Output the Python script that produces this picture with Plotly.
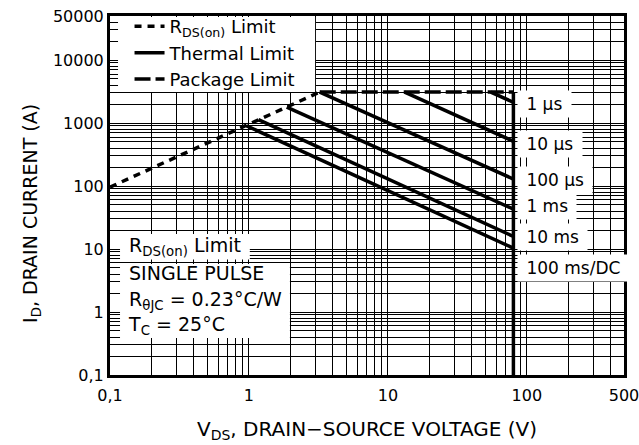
import numpy as np
import plotly.graph_objects as go

# ---------------- data ----------------
rds_v = [0.1, 3.23]
rds_i = [96, 3100]

pkg_v = [3.23, 80]
pkg_i = [3100, 3100]

pulse_names = ["1 µs", "10 µs", "100 µs", "1 ms", "10 ms", "100 ms/DC"]
pulse_v_start = [55, 13.2, 3.23, 1.87, 1.17, 0.963]
pulse_i_start = [3100, 3100, 3100, 1790, 1130, 900]
pulse_v_end = [80, 80, 80, 80, 80, 80]
pulse_i_end = [2133, 512, 129, 43, 15.8, 10.3]

vdss_v = [80, 80]
vdss_i = [3100, 0.1]

x_tickvals = [0.1, 1, 10, 100, 500]
x_ticktext = ["0,1", "1", "10", "100", "500"]
y_tickvals = [0.1, 1, 10, 100, 1000, 10000, 50000]
y_ticktext = ["0,1", "1", "10", "100", "1000", "10000", "50000"]

# label positions (fraction of plot height)
pulse_label_y = [0.754, 0.644, 0.543, 0.472, 0.385, 0.298]

FONT = "DejaVu Sans"
LW = 3.5

XR = [np.log10(0.1), np.log10(500) + 1e-6]
YR = [np.log10(0.1) - 1e-6, np.log10(50000) + 1e-6]


def fx(f):
    return 10 ** (XR[0] + f * (XR[1] - XR[0]))


def fy(f):
    return 10 ** (YR[0] + f * (YR[1] - YR[0]))


fig = go.Figure()

# white boxes behind the legend and the condition text (drawn first: above grid, below curves)
boxes = [(0.0156, 0.399, 0.788, 0.997),
         (0.0195, 0.272, 0.322, 0.393),
         (0.0195, 0.350, 0.103, 0.309)]
for b in boxes:
    fig.add_trace(go.Scatter(x=[fx(b[0]), fx(b[1]), fx(b[1]), fx(b[0]), fx(b[0])],
                             y=[fy(b[2]), fy(b[2]), fy(b[3]), fy(b[3]), fy(b[2])],
                             mode="lines", fill="toself", fillcolor="white",
                             line=dict(width=0, color="white"),
                             hoverinfo="skip", showlegend=False))

fig.add_trace(go.Scatter(x=rds_v, y=rds_i, mode="lines",
                         line=dict(color="black", width=LW, dash="7px,6px"),
                         name="R<sub>DS(on)</sub> Limit", legendrank=1))

for k in range(len(pulse_names)):
    fig.add_trace(go.Scatter(x=[pulse_v_start[k], pulse_v_end[k]],
                             y=[pulse_i_start[k], pulse_i_end[k]],
                             mode="lines", line=dict(color="black", width=LW),
                             name="Thermal Limit", legendgroup="thermal",
                             showlegend=(k == 0), legendrank=2))

fig.add_trace(go.Scatter(x=vdss_v, y=vdss_i, mode="lines",
                         line=dict(color="black", width=LW),
                         name="Thermal Limit", legendgroup="thermal",
                         showlegend=False, legendrank=2))

fig.add_trace(go.Scatter(x=pkg_v, y=pkg_i, mode="lines",
                         line=dict(color="black", width=LW, dash="16px,5px"),
                         name="Package Limit", legendrank=3))

# minor grid values 1..9 x 10^n
x_minor = [m * 10.0 ** e for e in range(-1, 3) for m in range(1, 10) if m * 10.0 ** e <= 500]
y_minor = [m * 10.0 ** e for e in range(-1, 5) for m in range(1, 10) if m * 10.0 ** e <= 50000]

axis_common = dict(type="log", showline=True, linecolor="black", linewidth=3,
                   mirror=True, ticks="", showgrid=True, gridcolor="black",
                   gridwidth=1.2, zeroline=False, ticklabeloverflow="allow",
                   tickfont=dict(family=FONT, size=16, color="black"))

fig.update_xaxes(range=XR, tickmode="array",
                 tickvals=x_tickvals, ticktext=x_ticktext, ticklabelstandoff=4,
                 minor=dict(tickmode="array", tickvals=x_minor, showgrid=True,
                            gridcolor="black", gridwidth=1.2, ticks=""),
                 **axis_common)
fig.update_yaxes(range=YR, tickmode="array",
                 tickvals=y_tickvals, ticktext=y_ticktext,
                 minor=dict(tickmode="array", tickvals=y_minor, showgrid=True,
                            gridcolor="black", gridwidth=1.2, ticks=""),
                 **axis_common)

annotations = []
for k, name in enumerate(pulse_names):
    annotations.append(dict(xref="paper", yref="paper", x=0.792, y=pulse_label_y[k],
                            xanchor="left", yanchor="middle", showarrow=False,
                            text="\u00a0" + name + "\u00a0", bgcolor="white", borderpad=3,
                            font=dict(family=FONT, size=17, color="black")))

cond_lines = ["R<sub>DS(on)</sub> Limit", "SINGLE PULSE",
              "R<sub>θJC</sub> = 0.23°C/W", "T<sub>C</sub> = 25°C"]
cond_y = [0.357, 0.284, 0.207, 0.138]
for k, t in enumerate(cond_lines):
    annotations.append(dict(xref="paper", yref="paper", x=0.0195, y=cond_y[k],
                            xanchor="left", yanchor="middle", showarrow=False,
                            text="\u00a0" + t + "\u00a0", borderpad=2,
                            font=dict(family=FONT, size=19, color="black")))

annotations.append(dict(xref="paper", yref="paper", x=-0.154, y=0.451,
                        xanchor="center", yanchor="middle", showarrow=False,
                        textangle=-90, text="I<sub>D</sub>, DRAIN CURRENT (A)",
                        font=dict(family=FONT, size=19, color="black")))
annotations.append(dict(xref="paper", yref="paper", x=0.5, y=-0.152,
                        xanchor="center", yanchor="middle", showarrow=False,
                        text="V<sub>DS</sub>, DRAIN\u2212SOURCE VOLTAGE (V)",
                        font=dict(family=FONT, size=20, color="black")))

fig.update_layout(width=639, height=445,
                  margin=dict(l=110, r=15, t=16, b=70, autoexpand=False),
                  paper_bgcolor="white", plot_bgcolor="white",
                  font=dict(family=FONT, color="black"),
                  annotations=annotations,
                  legend=dict(x=0.038, y=1.022, xanchor="left", yanchor="top",
                              bgcolor="rgba(0,0,0,0)", borderwidth=0,
                              font=dict(family=FONT, size=18, color="black"),
                              tracegroupgap=0))

fig.write_html("out.html", config={"displayModeBar": False},
               post_script="document.body.style.margin='0px';document.body.style.overflow='hidden';")
